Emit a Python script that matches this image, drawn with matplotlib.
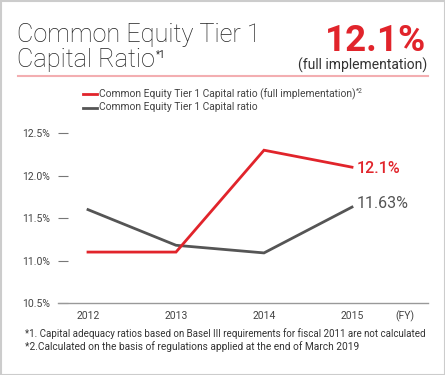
import matplotlib
matplotlib.use("Agg")
import matplotlib.pyplot as plt
from matplotlib.patches import Rectangle
from matplotlib.lines import Line2D

plt.rcParams['font.family'] = ['Roboto', 'DejaVu Sans']

years = [2012, 2013, 2014, 2015]
full_impl = [11.1, 11.1, 12.3, 12.1]
cet1 = [11.6, 11.18, 11.09, 11.63]
yticks = [10.5, 11.0, 11.5, 12.0, 12.5]
ytick_labels = ["10.5%", "11.0%", "11.5%", "12.0%", "12.5%"]
label_full = "Common Equity Tier 1 Capital ratio (full implementation)"
label_cet1 = "Common Equity Tier 1 Capital ratio"

RED = "#e1242b"
GRAY = "#555555"

W, H = 445, 375
fig = plt.figure(figsize=(W/100, H/100), dpi=100)
fig.patch.set_facecolor("white")

def fx(px):
    return px / W
def fy(py):
    return 1 - py / H

fig.add_artist(Rectangle((0.5/W, 0.5/H), 1 - 1/W, 1 - 1/H, transform=fig.transFigure,
                         fill=False, edgecolor="#cccccc", linewidth=1.5))
fig.add_artist(Line2D([fx(18), fx(428)], [fy(75.5), fy(75.5)], transform=fig.transFigure,
                      color="#f3aeb1", linewidth=1.5))

fig.canvas.draw()
renderer = fig.canvas.get_renderer()

fig.text(fx(17), fy(42), "Common Equity Tier 1", fontsize=18.2, fontweight="light", color="#222222",
         ha="left", va="baseline")
t2 = fig.text(fx(17), fy(67), "Capital Ratio", fontsize=18.2, fontweight="light", color="#222222",
              ha="left", va="baseline")
fig.canvas.draw()
bb = t2.get_window_extent(renderer)
fig.text(bb.x1 / W + 1 / W, fy(58), "*1", fontsize=7, color="#222222", ha="left", va="baseline")

fig.text(fx(426), fy(51), "12.1%", fontsize=26.5, fontweight="bold", color=RED,
         ha="right", va="baseline")
fig.text(fx(427), fy(70), "(full implementation)", fontsize=10, color="#333333",
         ha="right", va="baseline")

ax = fig.add_axes([fx(58), 1 - 303 / H, fx(428) - fx(58), (303 - 112) / H])
ax.plot(years, cet1, color=GRAY, linewidth=2, solid_joinstyle="miter")
ax.plot(years, full_impl, color=RED, linewidth=2, solid_joinstyle="miter")
ax.set_xlim(2012 - 30/88, 2015 + 76/88)
ax.set_ylim(10.5, 12.75)
for s in ["top", "right", "left"]:
    ax.spines[s].set_visible(False)
ax.spines["bottom"].set_color("#999999")
ax.spines["bottom"].set_linewidth(1)
ax.set_yticks(yticks)
ax.set_yticklabels(ytick_labels)
ax.set_xticks(years)
ax.set_xticklabels([str(y) for y in years])
ax.tick_params(axis="y", direction="in", length=7, width=0.8, color="#777777",
               labelsize=7.5, labelcolor="#444444", pad=6)
ax.tick_params(axis="x", length=0, labelsize=7.5, labelcolor="#444444", pad=6)
ax.patch.set_alpha(0)

fig.text(fx(405), fy(319), "(FY)", fontsize=7.5, color="#444444", ha="center", va="baseline")

ax.text(2015 + 5/88, 12.1 - 0.02, "12.1%", fontsize=11.5, fontweight="medium", color=RED,
        ha="left", va="center")
ax.text(2015 + 5/88, 11.63 + 0.04, "11.63%", fontsize=11.5, color=GRAY,
        ha="left", va="center")

fig.add_artist(Line2D([fx(83), fx(97)], [fy(94), fy(94)], transform=fig.transFigure,
                      color=RED, linewidth=2))
fig.add_artist(Line2D([fx(83), fx(97)], [fy(107.5), fy(107.5)], transform=fig.transFigure,
                      color=GRAY, linewidth=2))
lt = fig.text(fx(99), fy(94), label_full, fontsize=7.4, color="#444444", ha="left", va="center")
fig.canvas.draw()
bb = lt.get_window_extent(renderer)
fig.text(bb.x1 / W + 0.5 / W, fy(93), "*2", fontsize=5, color="#444444", ha="left", va="baseline")
fig.text(fx(99), fy(107.5), label_cet1, fontsize=7.4, color="#444444", ha="left", va="center")

fig.text(fx(25), fy(337), "*1. Capital adequacy ratios based on Basel III requirements for fiscal 2011 are not calculated",
         fontsize=7.0, color="#333333", ha="left", va="baseline")
fig.text(fx(25), fy(350), "*2.Calculated on the basis of regulations applied at the end of March 2019",
         fontsize=7.3, color="#333333", ha="left", va="baseline")

fig.savefig("out.png", dpi=100, facecolor="white")
